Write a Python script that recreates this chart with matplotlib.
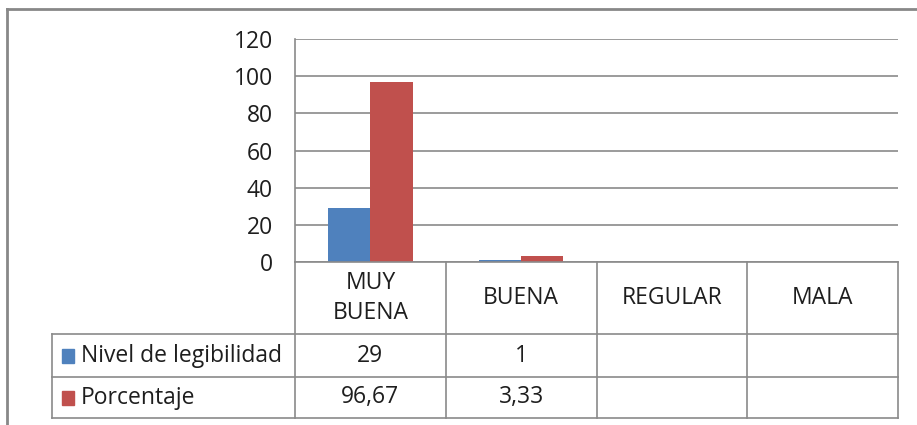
import matplotlib
matplotlib.use("Agg")
from matplotlib import pyplot as plt
from matplotlib.lines import Line2D
from matplotlib.patches import Rectangle

# datos de la tabla
categorias = ["MUY\nBUENA", "BUENA", "REGULAR", "MALA"]
series = ["Nivel de legibilidad", "Porcentaje"]
nivel = [29, 1, None, None]
porcentaje = [96.67, 3.33, None, None]
textos_nivel = ["29", "1", "", ""]
textos_porc = ["96,67", "3,33", "", ""]
colores = ["#4F81BD", "#C0504D"]
y_ticks = [0, 20, 40, 60, 80, 100, 120]

plt.rcParams["font.family"] = ["Open Sans", "DejaVu Sans"]
W, H = 917, 425
fig = plt.figure(figsize=(W / 100, H / 100), dpi=100)
gris = "#8a8a8a"
letra = 16.5


def px(x, y):
    # pixeles -> coordenadas de figura
    return x / W, 1 - y / H


# zona de grafico
x0, x1, ytop, ybot = 295, 898, 39, 262
ax = fig.add_axes([x0 / W, 1 - ybot / H, (x1 - x0) / W, (ybot - ytop) / H])
ancho = 0.28
pos = list(range(len(categorias)))
for k, (vals, col) in enumerate(zip([nivel, porcentaje], colores)):
    xs = [p + (k - 0.5) * ancho for p, v in zip(pos, vals) if v is not None]
    hs = [v for v in vals if v is not None]
    ax.bar(xs, hs, width=ancho, color=col, zorder=3)

ax.set_xlim(-0.5, len(categorias) - 0.5)
ax.set_ylim(0, 120)
ax.set_yticks(y_ticks)
ax.set_xticks([])
ax.tick_params(axis="y", length=0, pad=16, labelsize=letra, labelcolor="#1e1e1e")
ax.yaxis.grid(True, color=gris, linewidth=1.2, zorder=0)
for s in ["top", "right", "bottom"]:
    ax.spines[s].set_visible(False)
ax.spines["left"].set_color(gris)
ax.spines["left"].set_linewidth(1.2)

# tabla de datos debajo del grafico
filas_y = [262, 334, 377, 418]
tabla_izq = 52
bordes_x = [x0 + i * (x1 - x0) / len(categorias) for i in range(len(categorias) + 1)]
lineas = []
lineas.append(((x0, filas_y[0]), (x1, filas_y[0])))
for yy in filas_y[1:]:
    lineas.append(((tabla_izq, yy), (x1, yy)))
for xx in bordes_x:
    lineas.append(((xx, filas_y[0]), (xx, filas_y[-1])))
lineas.append(((tabla_izq, filas_y[1]), (tabla_izq, filas_y[-1])))
for (a, b) in lineas:
    (fx0, fy0), (fx1, fy1) = px(*a), px(*b)
    fig.add_artist(Line2D([fx0, fx1], [fy0, fy1], color=gris, linewidth=1.2))

for i, cat in enumerate(categorias):
    cx = (bordes_x[i] + bordes_x[i + 1]) / 2
    cy = (filas_y[0] + filas_y[1]) / 2
    fig.text(*px(cx, cy), cat, ha="center", va="center", fontsize=letra,
             color="#1e1e1e", linespacing=1.3)
    for r, textos in enumerate([textos_nivel, textos_porc]):
        ry = (filas_y[r + 1] + filas_y[r + 2]) / 2
        fig.text(*px(cx, ry), textos[i], ha="center", va="center",
                 fontsize=letra, color="#1e1e1e")

for r, (nombre, col) in enumerate(zip(series, colores)):
    ry = (filas_y[r + 1] + filas_y[r + 2]) / 2
    fx, fy = px(62, ry + 7)
    fig.add_artist(Rectangle((fx, fy), 12 / W, 14 / H, color=col,
                             transform=fig.transFigure))
    fig.text(*px(81, ry), nombre, ha="left", va="center", fontsize=letra,
             color="#1e1e1e")

# marco exterior
fig.add_artist(Line2D([7 / W, 1], [1 - 9 / H] * 2, color="#888888", linewidth=2))
fig.add_artist(Line2D([7 / W] * 2, [1 - 9 / H, 0], color="#888888", linewidth=2))

fig.savefig("out.png", dpi=100)
